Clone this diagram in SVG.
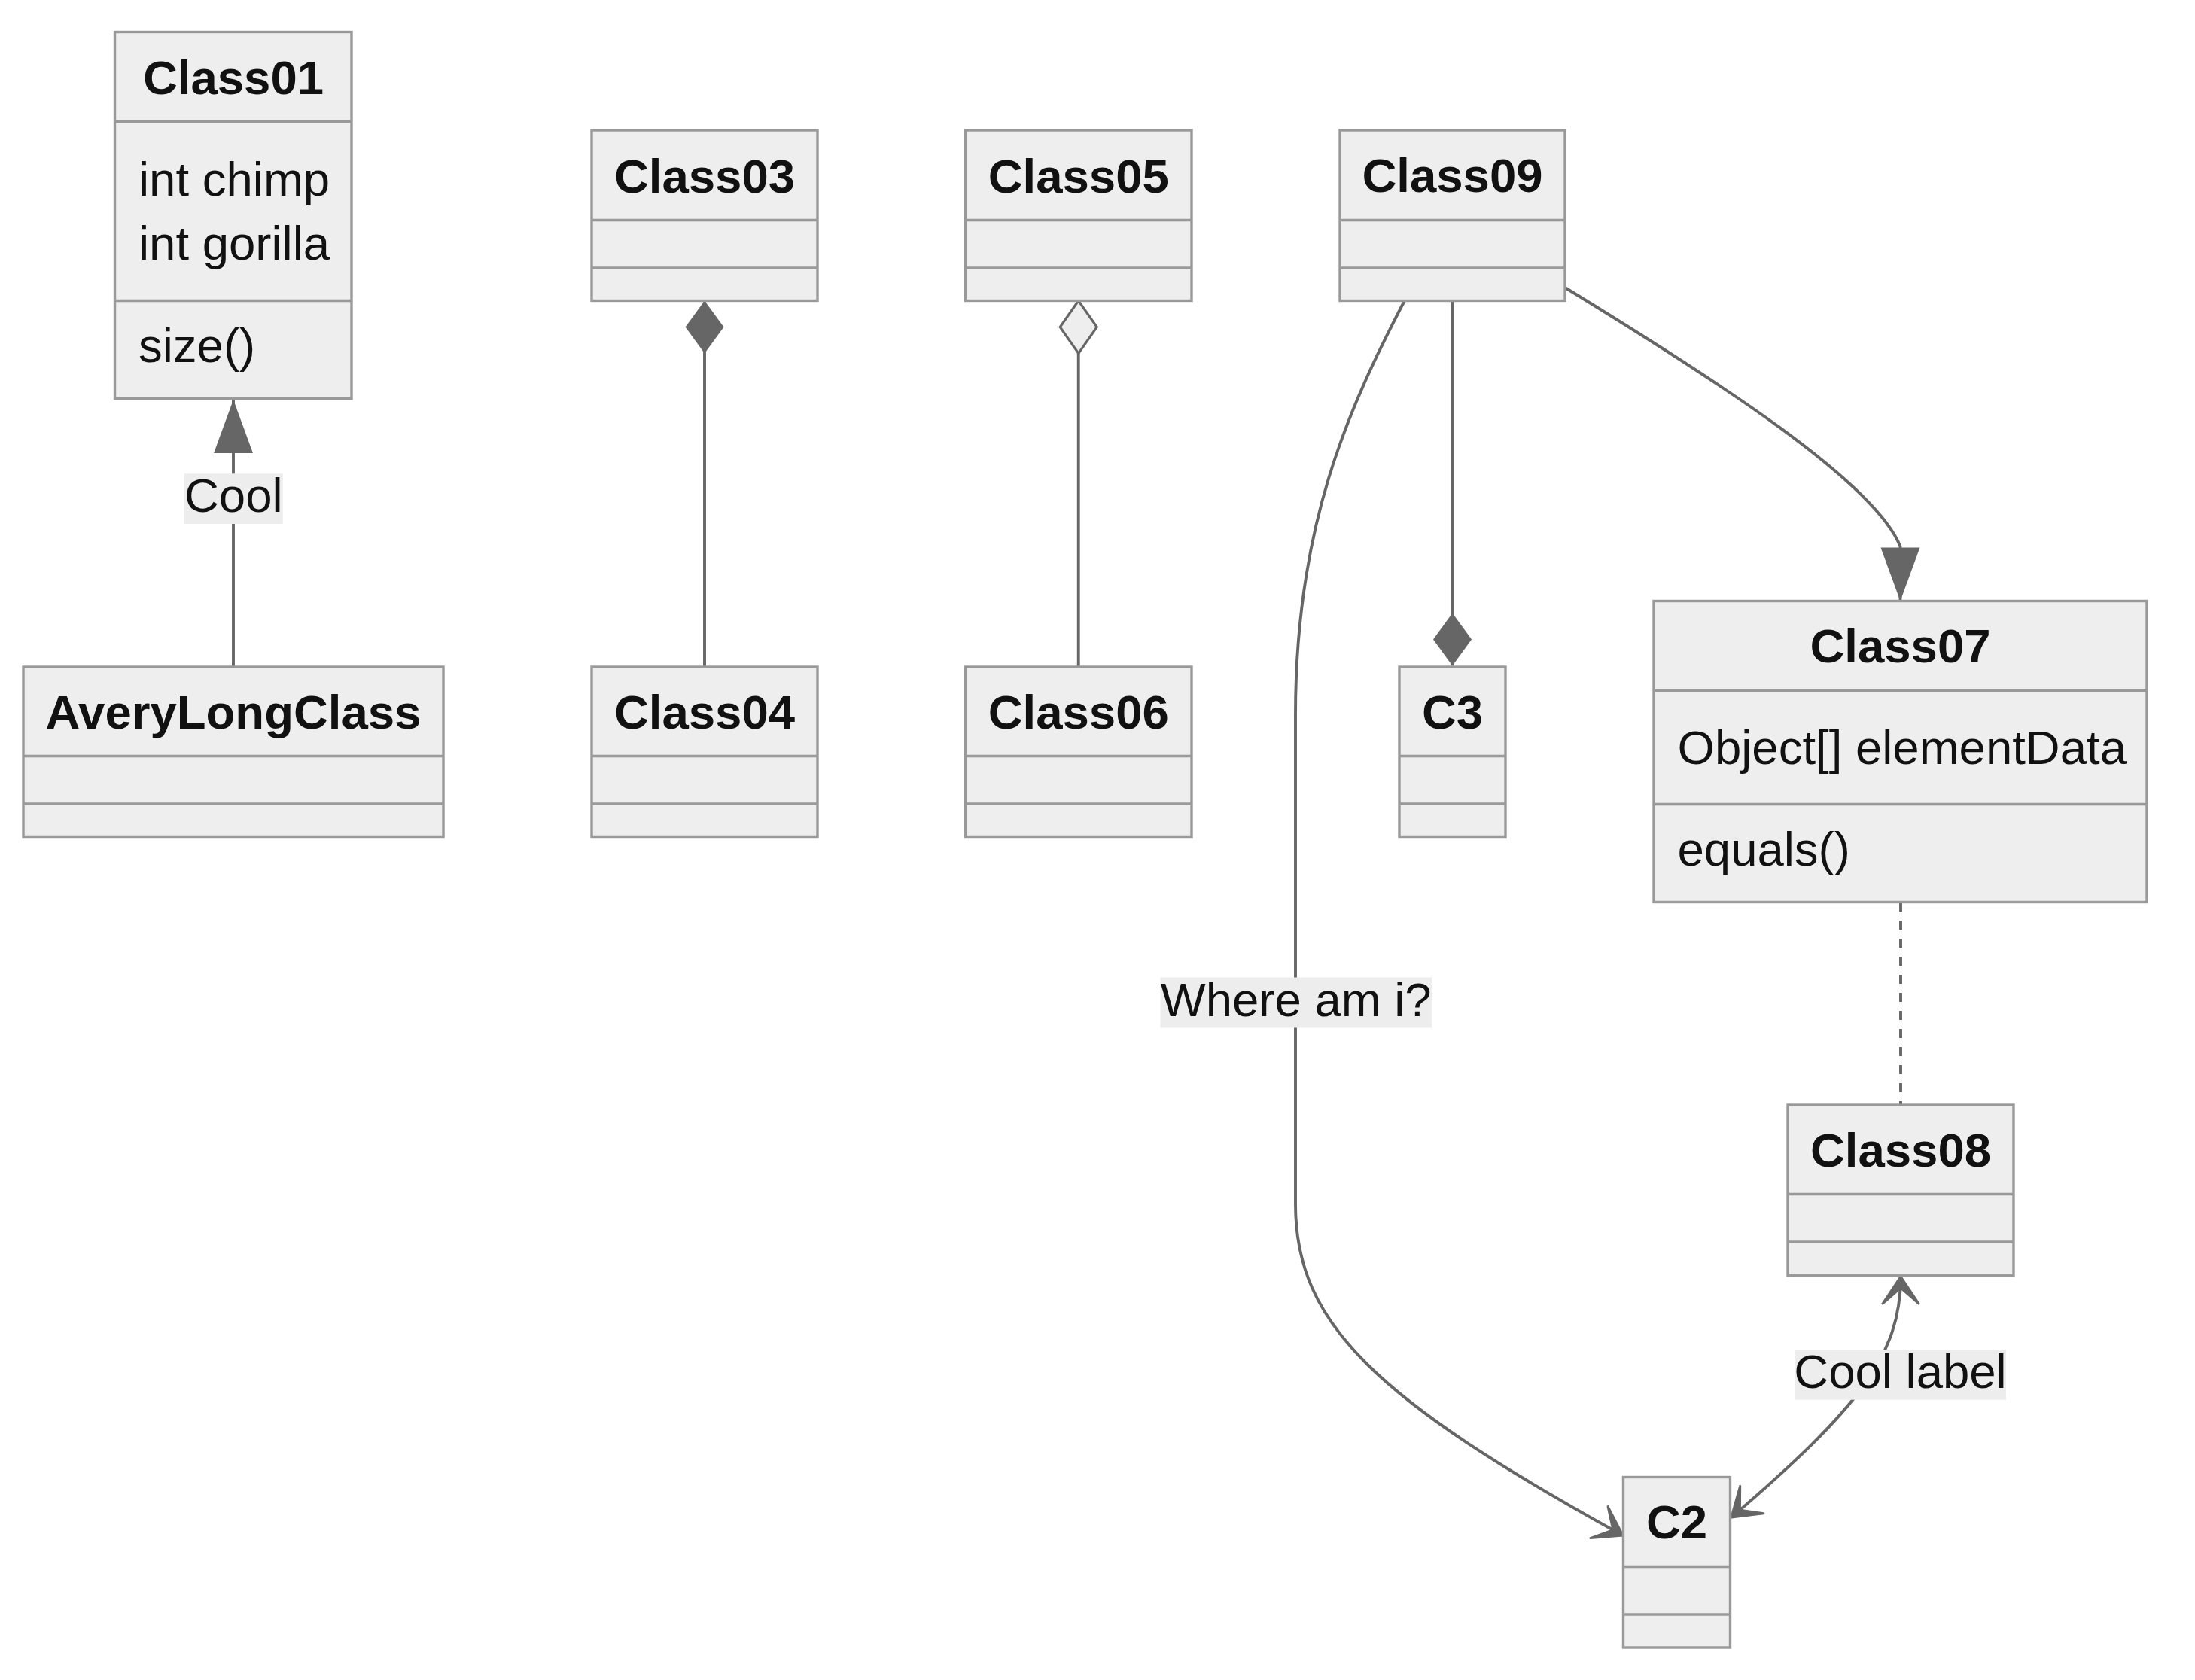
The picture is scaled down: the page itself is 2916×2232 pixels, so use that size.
<svg xmlns="http://www.w3.org/2000/svg" width="2916" height="2232" viewBox="0 0 2916 2232">
<style>
.box{fill:#eeeeee;stroke:#999999;stroke-width:3.4}
.sep{stroke:#999999;stroke-width:3.4;fill:none}
.title{font-family:"Liberation Sans",Arial,sans-serif;font-size:63.5px;font-weight:bold;fill:#111111;text-anchor:middle}
.member{font-family:"Liberation Sans",Arial,sans-serif;font-size:63.5px;fill:#111111}
.edge{fill:none;stroke:#666666;stroke-width:3.9}
.dashed{stroke-dasharray:12 12}
.lbg{fill:#ededed}
.ltext{font-family:"Liberation Sans",Arial,sans-serif;font-size:63.5px;fill:#111111;text-anchor:middle}
</style>
<defs>
<marker id="extension" markerUnits="userSpaceOnUse" orient="auto-start-reverse" refX="0" refY="0" markerWidth="80" markerHeight="60" overflow="visible">
<path d="M0,0 L-71,-26 L-71,26 Z" fill="#666666"/>
</marker>
<marker id="composition" markerUnits="userSpaceOnUse" orient="auto-start-reverse" refX="0" refY="0" markerWidth="80" markerHeight="60" overflow="visible">
<path d="M0,0 L-35,-25.5 L-70,0 L-35,25.5 Z" fill="#666666"/>
</marker>
<marker id="aggregation" markerUnits="userSpaceOnUse" orient="auto-start-reverse" refX="0" refY="0" markerWidth="80" markerHeight="60" overflow="visible">
<path d="M0,0 L-35,-24.5 L-70,0 L-35,24.5 Z" fill="#eeeeee" stroke="#666666" stroke-width="3.2"/>
</marker>
<marker id="dependency" markerUnits="userSpaceOnUse" orient="auto-start-reverse" refX="0" refY="0" markerWidth="60" markerHeight="60" overflow="visible">
<path d="M0,0 L-36,-24 L-15,0 L-36,24 Z" fill="#666666" stroke="#666666" stroke-width="3" stroke-linejoin="round"/>
</marker>
</defs>

<g id="connectors">
<path class="edge" d="M310,886 L310,531" marker-end="url(#extension)"/>
<path class="edge" d="M936,885.5 L936,399.5" marker-end="url(#composition)"/>
<path class="edge" d="M1432.75,885.5 L1432.75,399.5" marker-end="url(#aggregation)"/>
<path class="edge dashed" d="M2525,1199 L2525,1468"/>
<path class="edge" d="M1866.7,398 C1790,545 1721,700 1721,950 L1721,1600 C1721,1760 1830,1860 2156,2040" marker-end="url(#dependency)"/>
<path class="edge" d="M1929.5,399 L1929.5,884.5" marker-end="url(#composition)"/>
<path class="edge" d="M2079,382 C2280,505 2490,640 2524.5,726 L2524.5,798.5" marker-end="url(#extension)"/>
<path class="edge" d="M2525,1696 C2525,1800 2470,1870 2300,2016" marker-start="url(#dependency)" marker-end="url(#dependency)"/>
<g id="label-cool">
<rect class="lbg" x="245" y="629.3" width="130.7" height="66.7"/>
<text class="ltext" x="310.3" y="680">Cool</text>
</g>
<g id="label-where">
<rect class="lbg" x="1541.5" y="1298.5" width="360.5" height="67"/>
<text class="ltext" x="1721.7" y="1349.5">Where am i?</text>
</g>
<g id="label-coollabel">
<rect class="lbg" x="2384" y="1793" width="281" height="66.7"/>
<text class="ltext" x="2524.5" y="1844">Cool label</text>
</g>
</g>

<g id="Class01">
<rect class="box" x="152.5" y="42.5" width="314.5" height="487"/>
<line class="sep" x1="152.5" y1="161.5" x2="467" y2="161.5"/>
<line class="sep" x1="152.5" y1="399.5" x2="467" y2="399.5"/>
<text class="title" x="310" y="125">Class01</text>
<text class="member" x="184" y="260">int chimp</text>
<text class="member" x="184" y="344.5">int gorilla</text>
<text class="member" x="184" y="481">size()</text>
</g>

<g id="AveryLongClass">
<rect class="box" x="31" y="886" width="558" height="226.5"/>
<line class="sep" x1="31" y1="1004.5" x2="589" y2="1004.5"/>
<line class="sep" x1="31" y1="1068" x2="589" y2="1068"/>
<text class="title" x="310" y="968">AveryLongClass</text>
</g>

<g id="Class03">
<rect class="box" x="786" y="173" width="300" height="226.5"/>
<line class="sep" x1="786" y1="292.5" x2="1086" y2="292.5"/>
<line class="sep" x1="786" y1="356" x2="1086" y2="356"/>
<text class="title" x="936" y="255.5">Class03</text>
</g>

<g id="Class04">
<rect class="box" x="786" y="886" width="300" height="226.5"/>
<line class="sep" x1="786" y1="1004.5" x2="1086" y2="1004.5"/>
<line class="sep" x1="786" y1="1068" x2="1086" y2="1068"/>
<text class="title" x="936" y="968">Class04</text>
</g>

<g id="Class05">
<rect class="box" x="1282.5" y="173" width="300.5" height="226.5"/>
<line class="sep" x1="1282.5" y1="292.5" x2="1583" y2="292.5"/>
<line class="sep" x1="1282.5" y1="356" x2="1583" y2="356"/>
<text class="title" x="1432.75" y="255.5">Class05</text>
</g>

<g id="Class06">
<rect class="box" x="1282.5" y="886" width="300.5" height="226.5"/>
<line class="sep" x1="1282.5" y1="1004.5" x2="1583" y2="1004.5"/>
<line class="sep" x1="1282.5" y1="1068" x2="1583" y2="1068"/>
<text class="title" x="1432.75" y="968">Class06</text>
</g>

<g id="Class09">
<rect class="box" x="1780" y="173" width="299" height="226.5"/>
<line class="sep" x1="1780" y1="292.5" x2="2079" y2="292.5"/>
<line class="sep" x1="1780" y1="356" x2="2079" y2="356"/>
<text class="title" x="1929.5" y="255">Class09</text>
</g>

<g id="C3">
<rect class="box" x="1859" y="886" width="141" height="226.5"/>
<line class="sep" x1="1859" y1="1004.5" x2="2000" y2="1004.5"/>
<line class="sep" x1="1859" y1="1068" x2="2000" y2="1068"/>
<text class="title" x="1929.5" y="968">C3</text>
</g>

<g id="Class07">
<rect class="box" x="2197" y="798.5" width="655" height="400"/>
<line class="sep" x1="2197" y1="917.5" x2="2852" y2="917.5"/>
<line class="sep" x1="2197" y1="1068.5" x2="2852" y2="1068.5"/>
<text class="title" x="2524.5" y="880">Class07</text>
<text class="member" x="2228.5" y="1015">Object[] elementData</text>
<text class="member" x="2228.5" y="1150">equals()</text>
</g>

<g id="Class08">
<rect class="box" x="2375" y="1468" width="300" height="226.5"/>
<line class="sep" x1="2375" y1="1586.5" x2="2675" y2="1586.5"/>
<line class="sep" x1="2375" y1="1650" x2="2675" y2="1650"/>
<text class="title" x="2525" y="1549.5">Class08</text>
</g>

<g id="C2">
<rect class="box" x="2156.5" y="1962.5" width="142" height="226.5"/>
<line class="sep" x1="2156.5" y1="2081.5" x2="2298.5" y2="2081.5"/>
<line class="sep" x1="2156.5" y1="2145" x2="2298.5" y2="2145"/>
<text class="title" x="2227.5" y="2044">C2</text>
</g>
</svg>
